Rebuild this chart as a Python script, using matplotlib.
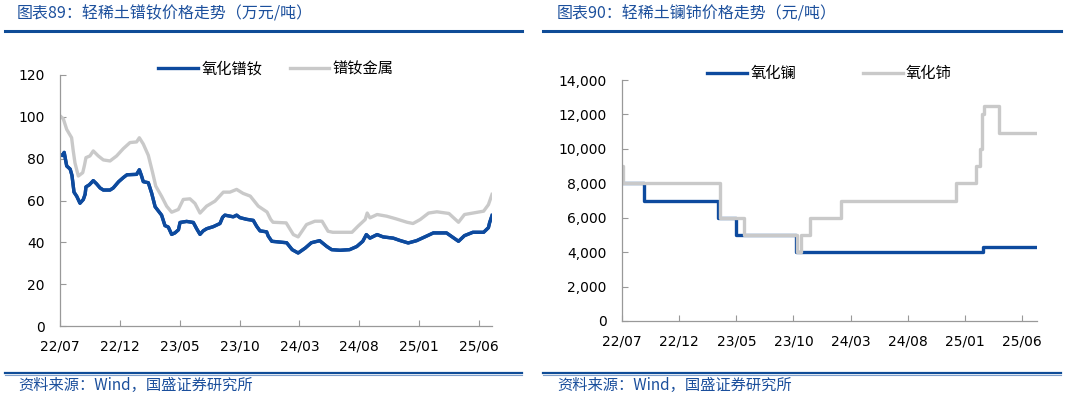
import matplotlib
matplotlib.use("Agg")
import matplotlib.pyplot as plt
from matplotlib.ticker import FuncFormatter, MultipleLocator
from matplotlib.lines import Line2D

plt.rcParams['font.family'] = ['DejaVu Sans', 'Noto Sans CJK SC']
CJK = ['Noto Sans CJK SC', 'DejaVu Sans']

# x in months since 2022/07
tick_pos = [0, 5, 10, 15, 20, 25, 30, 35]
tick_labels = ['22/07', '22/12', '23/05', '23/10', '24/03', '24/08', '25/01', '25/06']

# left: 氧化镨钕 / 镨钕金属 (万元/吨)
prnd_oxide_m = [0.0, 0.2, 0.35, 0.56, 0.85, 1.0, 1.17, 1.4, 1.67, 1.95, 2.1, 2.17, 2.45, 2.78,
                3.05, 3.35, 3.62, 4.18, 4.45, 4.9, 5.3, 5.6, 6.4, 6.63, 6.8, 6.96, 7.38, 7.66,
                7.95, 8.22, 8.49, 8.77, 9.05, 9.33, 9.6, 9.9, 10.03, 10.58, 11.14, 11.42, 11.7,
                11.97, 12.25, 12.81, 13.37, 13.59, 13.78, 14.48, 14.76, 15.04, 15.6, 16.15,
                16.43, 16.71, 17.27, 17.4, 17.7, 18.94, 19.4, 19.9, 20.5, 21.0, 21.7, 22.3,
                22.7, 23.4, 24.2, 24.8, 25.3, 25.6, 25.9, 26.5, 27.0, 27.85, 28.4, 29.1, 29.8,
                30.6, 31.2, 32.3, 32.7, 33.3, 33.8, 34.5, 35.4, 35.8, 35.9, 36.1]
prnd_oxide = [82, 81.5, 83, 76.5, 75, 72, 64, 62, 58.7, 60.5, 63, 66.5, 67.5, 69.5,
              68, 66, 65, 65, 66, 69, 71, 72.3, 72.5, 74.7, 72, 69, 68.5, 63.5,
              57, 55, 53, 48, 47.3, 43.8, 44.5, 46, 49.5, 50, 49.5, 46.5, 43.8,
              45.5, 46.5, 47.5, 49, 52, 53, 52.2, 53, 51.8, 51, 50.5,
              47.7, 45.5, 45, 43, 40.5, 39.8, 36.5, 34.9, 37.3, 39.8, 40.8, 38,
              36.5, 36.2, 36.5, 38, 40.5, 43.7, 42, 43.7, 42.6, 42, 40.9, 39.7, 40.8,
              42.9, 44.5, 44.5, 42.9, 40.5, 43.2, 44.8, 44.8, 47, 49.4, 52.8]

prnd_metal_m = [0, 0.28, 0.56, 0.97, 1.1, 1.25, 1.53, 1.9, 2.05, 2.17, 2.5, 2.78, 3.2, 3.62,
                4.18, 4.73, 5.29, 5.85, 6.4, 6.63, 6.96, 7.38, 7.74, 8.0, 8.49, 8.91, 9.33,
                9.89, 10.3, 10.86, 11.28, 11.7, 12.25, 12.95, 13.65, 14.2, 14.76, 15.3, 15.9,
                16.57, 17.3, 17.6, 17.8, 18.9, 19.5, 19.9, 20.6, 21.3, 21.9, 22.4, 22.8, 23.7,
                24.4, 24.9, 25.5, 25.67, 25.9, 26.5, 27.3, 28.1, 29.0, 29.5, 30.1, 30.8, 31.5,
                32.5, 32.9, 33.3, 33.8, 34.5, 35.4, 35.8, 36.1]
prnd_metal = [100.5, 99, 94, 90, 84, 78, 71.7, 73.3, 77, 80.5, 81.3, 83.7, 81.3, 79.4,
              78.9, 81.3, 84.8, 87.7, 88, 90, 87, 81.6, 73.3, 66.9, 62, 57.3, 54.4,
              55.7, 60.5, 60.8, 58.6, 54, 57.3, 59.7, 64, 64, 65.3, 63.4, 62.1,
              57.3, 54.5, 51, 49.6, 49.3, 43.7, 42.6, 48.5, 50.1, 50.1, 45.3, 44.8, 44.8,
              44.8, 47.7, 50.9, 54, 51.7, 53.3, 52.5, 51.2, 49.6, 49, 50.9, 54, 54.6,
              53.8, 51.7, 49.6, 53.3, 54, 54.9, 58, 62.9]

# right: 氧化镧 / 氧化铈 (元/吨), step prices
la_oxide_m = [0, 1.93, 8.4, 9.95, 15.2, 31.55, 36.3]
la_oxide = [8000, 7000, 6000, 5000, 4000, 4300, 4300]
ce_oxide_m = [0, 0.1, 8.57, 10.67, 15.28, 15.66, 16.45, 19.16, 29.2, 31.0, 31.3, 31.5,
              31.7, 33.0, 36.3]
ce_oxide = [9000, 8000, 6000, 5000, 4000, 5000, 6000, 7000, 8000, 9000, 10000, 12000,
            12500, 10900, 10900]

blue = '#0D4A9E'
grey = '#C9C9C9'
head = '#1B4F9C'

fig = plt.figure(figsize=(10.65, 3.98), dpi=100)

def style_axes(ax, xmax):
    for s in ['top', 'right']:
        ax.spines[s].set_visible(False)
    for s in ['left', 'bottom']:
        ax.spines[s].set_color('#999999')
        ax.spines[s].set_linewidth(0.9)
    ax.set_xlim(0, xmax)
    ax.set_xticks(tick_pos)
    ax.set_xticklabels(tick_labels)
    ax.tick_params(direction='in', length=4, color='#999999', labelsize=10,
                   labelcolor='black')
    ax.tick_params(axis='y', pad=11)
    ax.tick_params(axis='x', pad=10)

ax1 = fig.add_axes([60 / 1065, 72 / 398, 432 / 1065, 251 / 398])
ax1.plot(prnd_oxide_m, prnd_oxide, color=blue, lw=2.4, label='氧化镨钕')
ax1.plot(prnd_metal_m, prnd_metal, color=grey, lw=2.4, label='镨钕金属')
ax1.plot(prnd_oxide_m, prnd_oxide, color=blue, lw=2.4)
style_axes(ax1, 36.1)
ax1.set_ylim(0, 120)
ax1.yaxis.set_major_locator(MultipleLocator(20))
ax1.legend(loc='lower center', bbox_to_anchor=(0.5, 0.965), ncol=2, frameon=False,
           prop={'family': CJK, 'size': 11}, handlelength=2.6, handletextpad=0.2,
           columnspacing=1.8, borderaxespad=0)

ax2 = fig.add_axes([622 / 1065, 77 / 398, 415 / 1065, 241 / 398])
ax2.step(la_oxide_m, la_oxide, where='post', color=blue, lw=2.4, label='氧化镧')
ax2.step(ce_oxide_m, ce_oxide, where='post', color=grey, lw=2.4, label='氧化铈')
style_axes(ax2, 36.3)
ax2.set_ylim(0, 14000)
ax2.yaxis.set_major_locator(MultipleLocator(2000))
ax2.yaxis.set_major_formatter(FuncFormatter(lambda v, p: f'{v:,.0f}'))
ax2.legend(loc='lower center', bbox_to_anchor=(0.5, 0.965), ncol=2, frameon=False,
           prop={'family': CJK, 'size': 11}, handlelength=2.6, handletextpad=0.2,
           columnspacing=4.4, borderaxespad=0)

# headers and footers
fig.text(17 / 1065, 1 - 14 / 398, '图表89：轻稀土镨钕价格走势（万元/吨）', color=head,
         family=CJK, fontsize=11.5, va='center', ha='left', style='italic')
fig.text(557 / 1065, 1 - 14 / 398, '图表90：轻稀土镧铈价格走势（元/吨）', color=head,
         family=CJK, fontsize=11.5, va='center', ha='left', style='italic')
for x0, x1 in [(5, 522), (543, 1061)]:
    fig.add_artist(Line2D([x0 / 1065, x1 / 1065], [1 - 31 / 398] * 2, color='#0F4C97', lw=2.2))
    fig.add_artist(Line2D([x0 / 1065, x1 / 1065], [1 - 372.5 / 398] * 2, color='#0F4C97', lw=1.6))
    fig.add_artist(Line2D([x0 / 1065, x1 / 1065], [1 - 375 / 398] * 2, color='#7F9FCB', lw=0.8))
fig.text(18 / 1065, 1 - 385 / 398, '资料来源：Wind，国盛证券研究所', color=head,
         family=CJK, fontsize=11, va='center', ha='left', style='italic')
fig.text(557 / 1065, 1 - 385 / 398, '资料来源：Wind，国盛证券研究所', color=head,
         family=CJK, fontsize=11, va='center', ha='left', style='italic')

fig.savefig('out.png', dpi=100)
